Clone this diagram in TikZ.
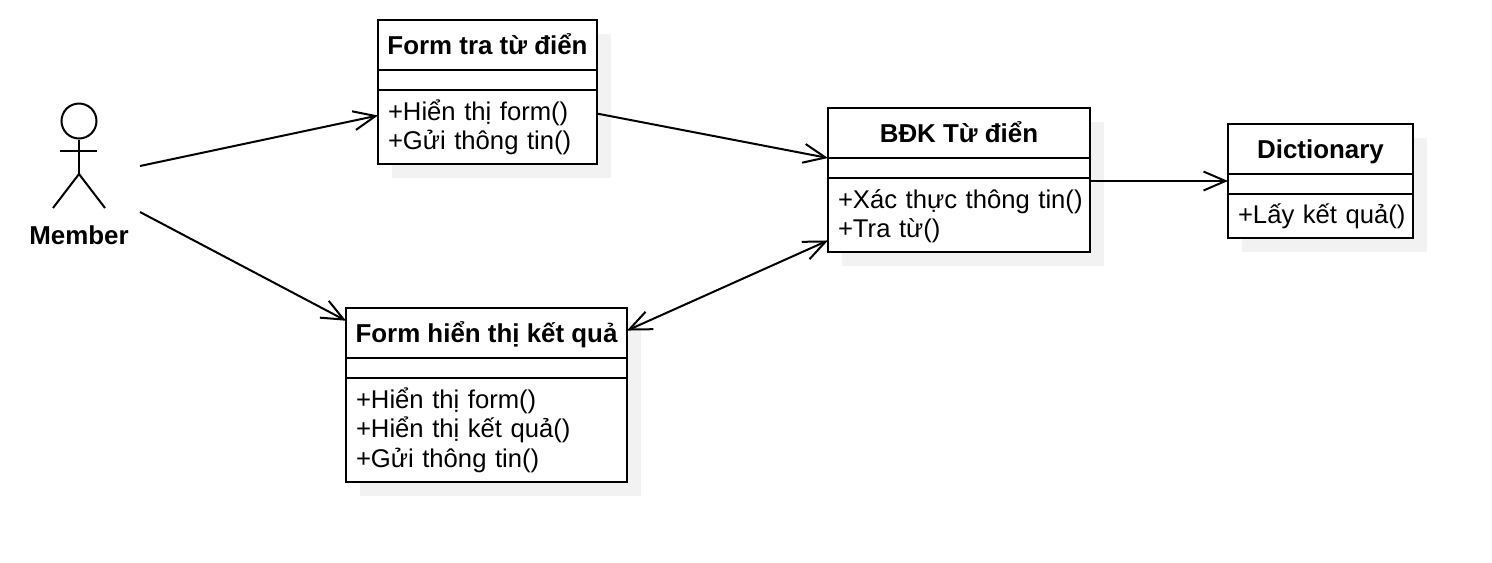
\documentclass[tikz,border=0pt]{standalone}
\usepackage{fontspec}
\setmainfont{Liberation Sans}
\usetikzlibrary{positioning}
\usetikzlibrary{calc}
\usetikzlibrary{arrows.meta}
\newcommand{\px}{0.02cm}
\newcommand{\rows}[1]{\vbox{\kern 0.08cm\hbox{\begin{tabular}{@{}l@{}}#1\end{tabular}}}}
\tikzset{
  classpart/.style={draw, fill=white, line width=2*\px, outer sep=0pt, inner sep=0pt, minimum width=#1*\px},
  classtitle/.style={classpart=#1, minimum height=50*\px, text height=24*\px, text depth=6*\px, align=center, font=\fontsize{14.74}{17}\selectfont\bfseries},
  classempty/.style={classpart=#1, minimum height=20*\px},
  classbody/.style={classpart=#1, text width=(#1-20)*\px, inner xsep=10*\px, font=\fontsize{14.6}{17}\selectfont},
  shadowbox/.style={fill=black!5},
  stick/.style={line width=2*\px},
  link/.style={line width=2*\px, -{Straight Barb[length=22*\px, width=19*\px]}},
  linkboth/.style={line width=2*\px, {Straight Barb[length=22*\px, width=19*\px]}-{Straight Barb[length=22*\px, width=19*\px]}}
}
\begin{document}
\begin{tikzpicture}[x=0.02cm, y=-0.02cm]
\useasboundingbox (0,0) rectangle (1492,562);
% shadows
\fill[shadowbox] (392,34) rectangle (611,178);
\fill[shadowbox] (360,322) rectangle (641,496);
\fill[shadowbox] (842,122) rectangle (1104,266);
\fill[shadowbox] (1242,138) rectangle (1427,252);
% actor
\node[circle, draw, stick, minimum size=35*\px, inner sep=0pt] (head) at (79,121) {};
\coordinate (hip) at (79,174);
\coordinate (armleft) at (60,151);
\coordinate (armright) at (97,151);
\coordinate (footleft) at (53,208);
\coordinate (footright) at (105,208);
\draw[stick] (head) -- (hip);
\draw[stick] (armleft) -- (armright);
\draw[stick] (footleft) -- (hip) -- (footright);
\node[font=\fontsize{14.74}{17}\selectfont\bfseries, inner sep=0pt] (member) at (79,235) {Member};
\coordinate (memberup) at (140,166);
\coordinate (memberdown) at (140,212);
% form tra
\node[classtitle=219] (formtra) at (487.5,45) {Form tra từ điển};
\node[classempty=219, below=0pt of formtra] (formtraempty) {};
\node[classbody=219, minimum height=74*\px, below=0pt of formtraempty] (formtrabody) {\rows{+Hiển thị form()\\+Gửi thông tin()}};
% form ket qua
\node[classtitle=281] (formkq) at (486.5,333) {Form hiển thị kết quả};
\node[classempty=281, below=0pt of formkq] (formkqempty) {};
\node[classbody=281, minimum height=104*\px, below=0pt of formkqempty] (formkqbody) {\rows{+Hiển thị form()\\+Hiển thị kết quả()\\+Gửi thông tin()}};
% bdk
\node[classtitle=262] (bdk) at (959,133) {BĐK Từ điển};
\node[classempty=262, below=0pt of bdk] (bdkempty) {};
\node[classbody=262, minimum height=74*\px, below=0pt of bdkempty] (bdkbody) {\rows{+Xác thực thông tin()\\+Tra từ()}};
% dictionary
\node[classtitle=185] (dict) at (1320.5,149) {Dictionary};
\node[classempty=185, below=0pt of dict] (dictempty) {};
\node[classbody=185, minimum height=44*\px, below=0pt of dictempty] (dictbody) {\rows{+Lấy kết quả()}};
% connectors
\coordinate (bdkout) at ($(bdkbody.north east)+(0,3)$);
\draw[link] (memberup) -- (formtrabody.174);
\draw[link] (memberdown) -- (formkq.175);
\draw[link] (formtrabody.7) -- (bdk.south west);
\draw[link] (bdkout) -- (bdkout -| dictempty.west);
\draw[linkboth] (formkq.1) -- (bdkbody.191);
\end{tikzpicture}
\end{document}
